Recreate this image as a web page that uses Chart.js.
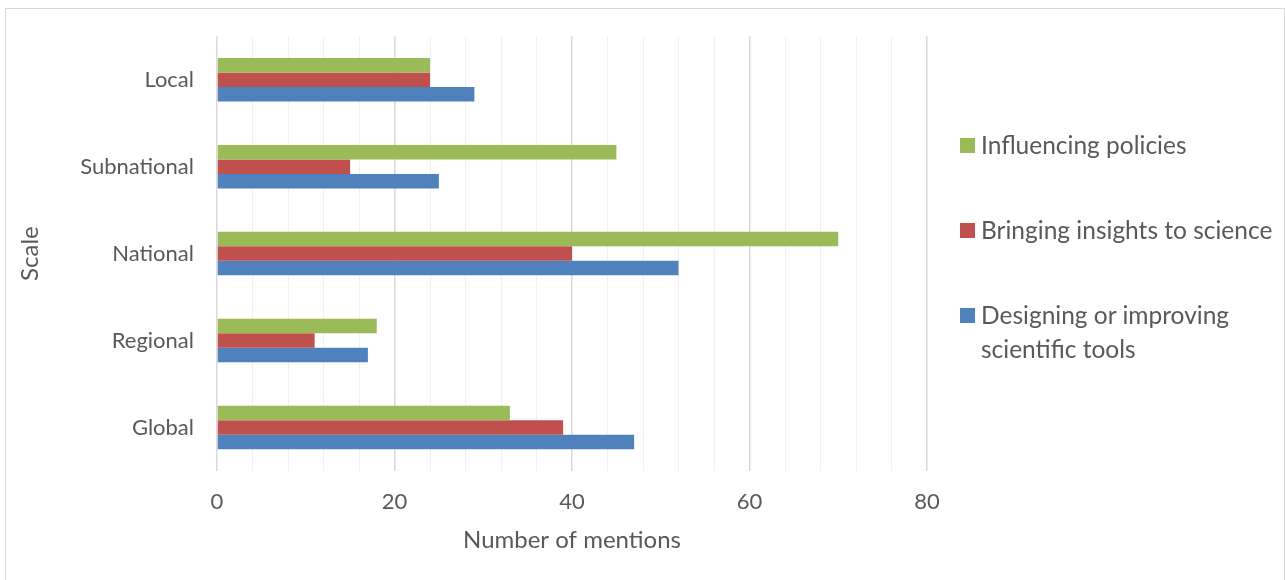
<!DOCTYPE html>
<html>
<head>
<meta charset="utf-8">
<script src="https://cdn.jsdelivr.net/npm/chart.js@4.4.0/dist/chart.umd.min.js"></script>
<style>
  body { margin: 0; background: #fff; font-family: Lato, "Open Sans", sans-serif; }
  #wrap { position: relative; width: 1285px; height: 580px; overflow: hidden; }
  #frame { position: absolute; left: 5px; top: 8px; width: 1280px; height: 600px; border: 1px solid #d9d9d9; box-sizing: border-box; }
  canvas { position: absolute; left: 0; top: 0; }
  .item { position: absolute; left: 960px; width: 322px; display: flex; align-items: flex-start; color: #595959; font-size: 24.5px; line-height: 34px; }
  .item .box { width: 15px; height: 15px; margin-top: 9.5px; margin-right: 6px; flex: none; }
  .item .txt { width: 300px; }
</style>
</head>
<body>
<div id="wrap">
  <div id="frame"></div>
  <canvas id="scale-chart" width="1285" height="580"></canvas>
  <div id="legend"></div>
</div>
<script>
const scaleLabels = ["Local", "Subnational", "National", "Regional", "Global"]
const influencingPolicies = [24, 45, 70, 18, 33]
const bringingInsights = [24, 15, 40, 11, 39]
const designingTools = [29, 25, 52, 17, 47]
const seriesNames = ["Influencing policies", "Bringing insights to science", "Designing or improving scientific tools"]
const seriesColors = ["#9bbb59", "#c0504d", "#4f81bd"]
const xTicks = [0, 20, 40, 60, 80]

const textColor = "#595959"

const dataObj = {
  labels: scaleLabels,
  datasets: [influencingPolicies, bringingInsights, designingTools].map((vals, i) => ({
    label: seriesNames[i],
    data: vals,
    backgroundColor: seriesColors[i],
    borderWidth: 0,
    categoryPercentage: 0.5,
    barPercentage: 1
  }))
}

new Chart("scale-chart", {
  type: "bar",
  data: dataObj,
  options: {
    indexAxis: "y",
    responsive: false,
    animation: false,
    devicePixelRatio: 1,
    layout: { padding: { top: 36, right: 358, bottom: 0, left: 0 } },
    plugins: {
      legend: { display: false },
      tooltip: { enabled: false }
    },
    scales: {
      x: {
        min: 0,
        max: 80,
        afterFit: (s) => { s.height = 109 },
        border: { display: false },
        grid: {
          drawTicks: false,
          color: (ctx) => xTicks.includes(ctx.tick.value) ? "#d9d9d9" : "#f0f0f0",
          lineWidth: (ctx) => xTicks.includes(ctx.tick.value) ? 1.5 : 1
        },
        ticks: {
          stepSize: 4,
          autoSkip: false,
          maxRotation: 0,
          padding: 18,
          color: textColor,
          font: { family: "Lato", size: 22 },
          callback: (v) => xTicks.includes(v) ? v : ""
        },
        title: {
          display: true,
          text: "Number of mentions",
          color: textColor,
          font: { family: "Lato", size: 24 },
          padding: { top: 0, bottom: 25 }
        }
      },
      y: {
        afterFit: (s) => { s.width = 217 },
        border: { display: false },
        grid: { display: false, drawTicks: false },
        ticks: {
          padding: 23,
          color: textColor,
          font: { family: "Lato", size: 22 }
        },
        title: {
          display: true,
          text: "Scale",
          color: textColor,
          font: { family: "Lato", size: 24 },
          padding: { top: 16, bottom: 0 }
        }
      }
    }
  }
})

// legend on the right, text wraps like the original
const legendTops = [128, 213, 298]
const legend = document.getElementById("legend")
seriesNames.forEach((name, i) => {
  const item = document.createElement("div")
  item.className = "item"
  item.style.top = legendTops[i] + "px"
  item.innerHTML = '<span class="box" style="background:' + seriesColors[i] + '"></span><span class="txt">' + name + '</span>'
  legend.appendChild(item)
})
</script>
</body>
</html>
